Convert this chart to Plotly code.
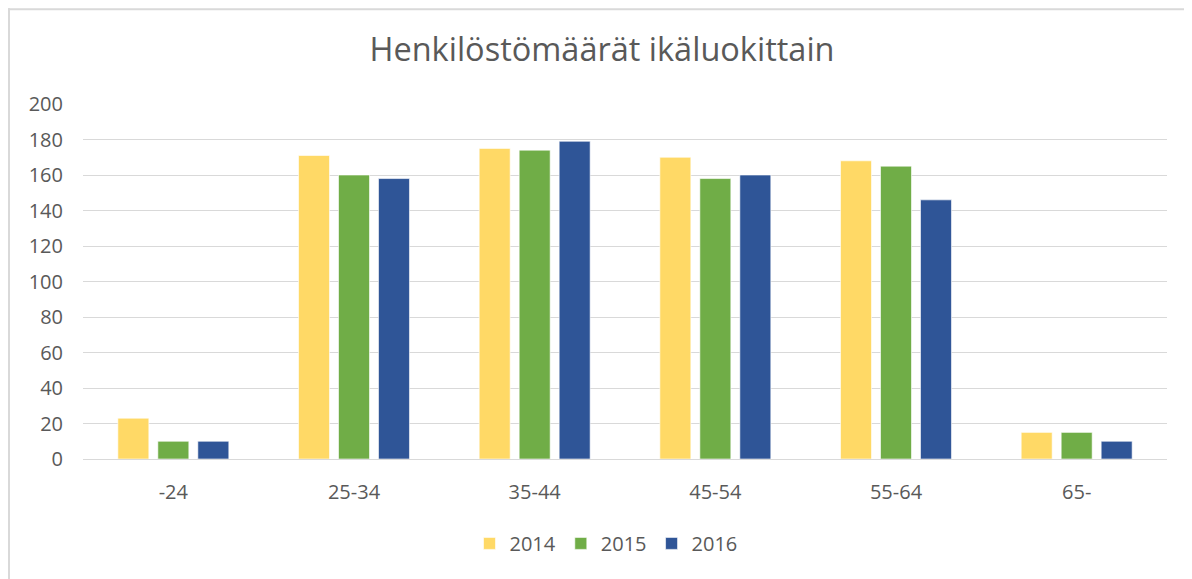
import plotly.graph_objects as go

categories = ["-24", "25-34", "35-44", "45-54", "55-64", "65-"]
years = ["2014", "2015", "2016"]
values_2014 = [23, 171, 175, 170, 168, 15]
values_2015 = [10, 160, 174, 158, 165, 15]
values_2016 = [10, 158, 179, 160, 146, 10]
colors = ["#FFD966", "#70AD47", "#2F5597"]
series = [values_2014, values_2015, values_2016]

FONT = "Open Sans"
TXT = "#595959"

fig = go.Figure()
for name, vals, col in zip(years, series, colors):
    fig.add_trace(go.Bar(
        x=categories, y=vals, name=name,
        marker=dict(color=col, line=dict(color="rgba(255,255,255,0.6)", width=1)),
    ))

# page has an 8px body margin; figure is sized so that screen coords match
OFF = 8
SW, SH = 1192, 579
W, H = SW - OFF, SH - OFF
# plot area in screen coords
PL, PR, PT, PB = 83, 1167, 104, 459.5
L, R, T, B = PL - OFF, SW - PR, PT - OFF, SH - PB
pw, ph = PR - PL, PB - PT

def px_x(x):
    return (x - PL) / pw

def px_y(y):
    return (PB - y) / ph

fig.update_layout(
    width=W, height=H,
    margin=dict(l=L, r=R, t=T, b=B, pad=0, autoexpand=False),
    paper_bgcolor="white", plot_bgcolor="white",
    barmode="group", bargap=0.336, bargroupgap=0.225,
    font=dict(family=FONT, color=TXT, size=18),
    title=dict(text="Henkilöstömäärät ikäluokittain", x=(602 - OFF) / W, xanchor="center",
               y=1 - (50 - OFF) / H, yanchor="middle",
               font=dict(family=FONT, size=32.5, color=TXT)),
    xaxis=dict(showgrid=False, showline=False, ticks="", tickfont=dict(size=20, color=TXT),
               ticklabelstandoff=19),
    yaxis=dict(range=[0, 200], dtick=20, showgrid=True, gridcolor="#D9D9D9", gridwidth=1,
               zeroline=True, zerolinecolor="#D9D9D9", zerolinewidth=1,
               showline=False, ticks="", tickfont=dict(size=20, color=TXT),
               ticklabelstandoff=19),
    legend=dict(orientation="h", x=px_x(606), xanchor="center", y=px_y(544), yanchor="middle",
                font=dict(size=20, color=TXT), itemwidth=30, tracegroupgap=0),
    shapes=[
        dict(type="line", xref="paper", yref="paper", x0=px_x(8), x1=px_x(SW + 2),
             y0=px_y(9), y1=px_y(9), line=dict(color="#D9D9D9", width=2)),
        dict(type="line", xref="paper", yref="paper", x0=px_x(9), x1=px_x(9),
             y0=px_y(8), y1=px_y(SH + 2), line=dict(color="#D9D9D9", width=2)),
    ],
)

fig.write_html("out.html")
